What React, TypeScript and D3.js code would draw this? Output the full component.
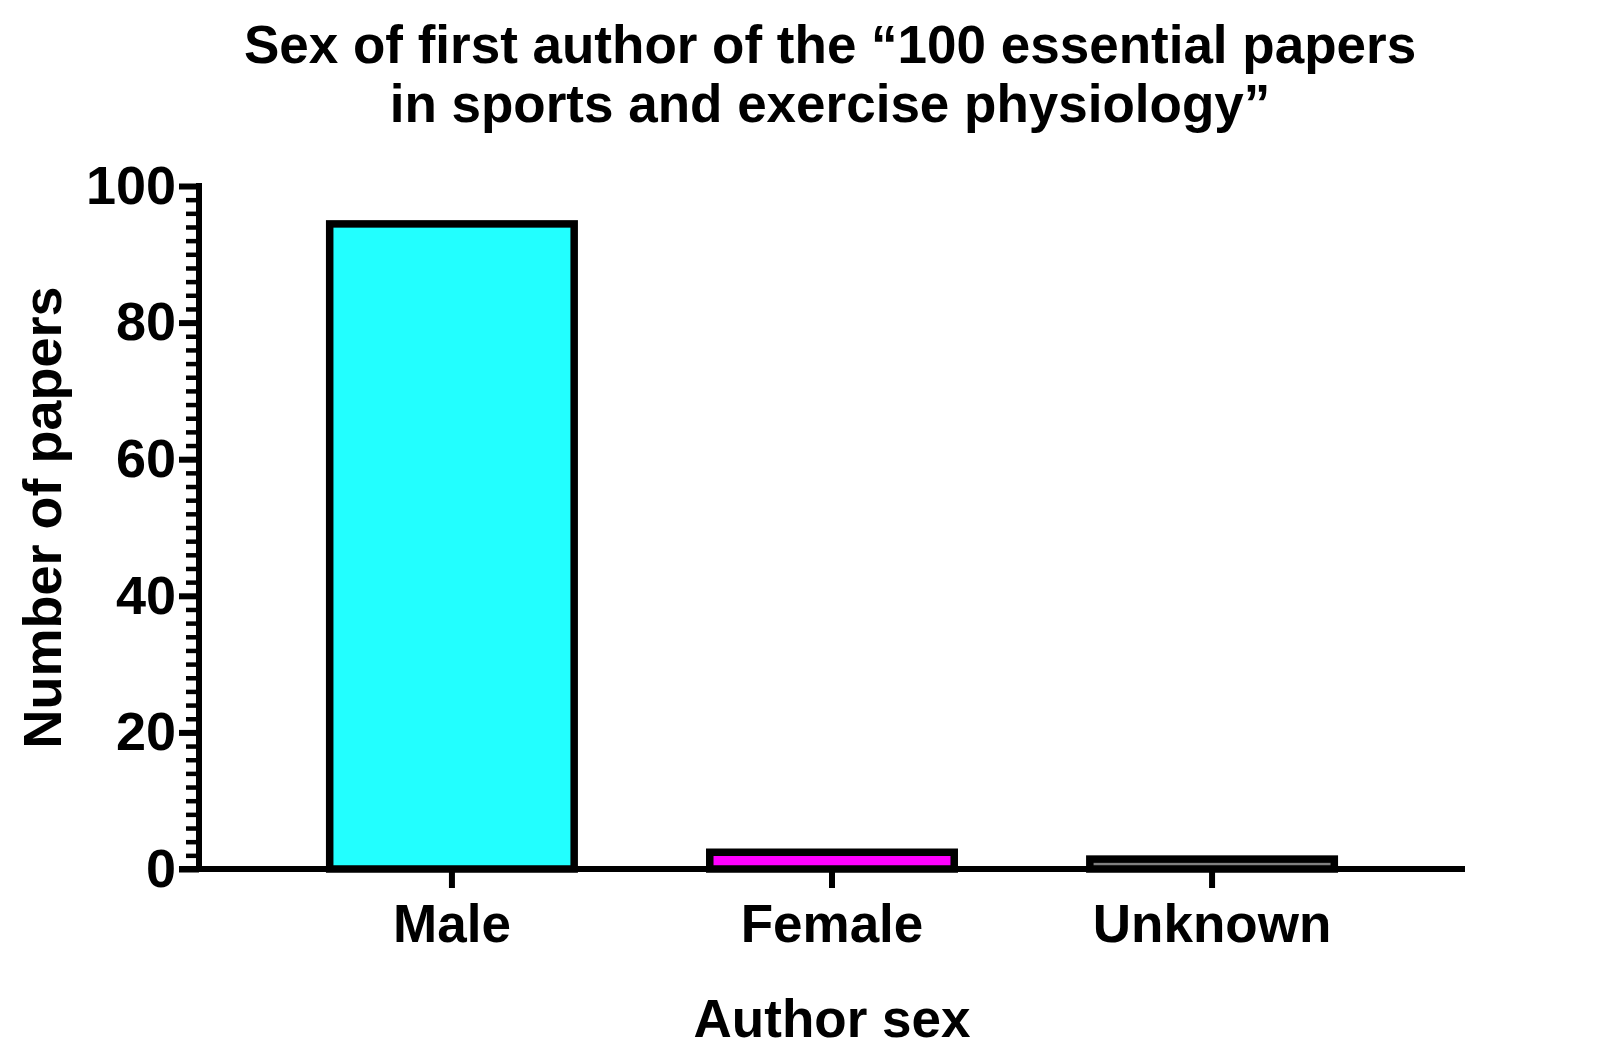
import React, { useEffect, useRef } from "react";
import * as d3 from "d3";

const categories = ["Male", "Female", "Unknown"];
const counts = [95, 3, 2];
const barColors = ["#22ffff", "#ff00ff", "#808080"];
const majorTicks = [0, 20, 40, 60, 80, 100];
const minorTicks = d3.range(0, 101, 2);
const titleLines = [
  "Sex of first author of the \u201c100 essential papers",
  "in sports and exercise physiology\u201d",
];

const W = 1600;
const H = 1059;
const FONT = "'Liberation Sans', Arial, Helvetica, sans-serif";

export default function App() {
  const svgRef = useRef<SVGSVGElement | null>(null);

  useEffect(() => {
    if (!svgRef.current) return;
    const svg = d3.select(svgRef.current);
    svg.selectAll("*").remove();

    const left = 199;
    const right = 1465;
    const top = 186;
    const bottom = 869;

    const x = d3
      .scaleBand<string>()
      .domain(categories)
      .range([left, right])
      .paddingInner(0.337)
      .paddingOuter(0.334);

    const y = d3.scaleLinear().domain([0, 100]).range([bottom, top]);

    // bars, border drawn inside the value
    const sw = 7.5;
    svg
      .append("g")
      .selectAll("rect")
      .data(categories)
      .join("rect")
      .attr("x", (d) => (x(d) as number) + sw / 2)
      .attr("y", (d, i) => y(counts[i]) + sw / 2)
      .attr("width", x.bandwidth() - sw)
      .attr("height", (d, i) => Math.max(0, y(0) - y(counts[i]) - sw / 2))
      .attr("fill", (d, i) => barColors[i])
      .attr("stroke", "#000")
      .attr("stroke-width", sw);

    // minor y ticks
    const minor = svg
      .append("g")
      .attr("transform", `translate(${left},0)`)
      .call(d3.axisLeft(y).tickValues(minorTicks).tickSize(13).tickFormat(() => ""));
    minor.select(".domain").remove();
    minor.selectAll("line").attr("stroke", "#000").attr("stroke-width", 4.5);

    // major y ticks + labels
    const yAxis = svg
      .append("g")
      .attr("transform", `translate(${left},0)`)
      .call(d3.axisLeft(y).tickValues(majorTicks).tickSize(20).tickPadding(3));
    yAxis.select(".domain").remove();
    yAxis.selectAll("line").attr("stroke", "#000").attr("stroke-width", 6);
    yAxis
      .selectAll("text")
      .attr("fill", "#000")
      .style("font-family", FONT)
      .style("font-size", "54px")
      .style("font-weight", "bold");

    // x axis ticks + labels
    const xAxis = svg
      .append("g")
      .attr("transform", `translate(0,${bottom})`)
      .call(d3.axisBottom(x).tickSize(19).tickPadding(16).tickSizeOuter(0));
    xAxis.select(".domain").remove();
    xAxis.selectAll("line").attr("stroke", "#000").attr("stroke-width", 6);
    xAxis
      .selectAll("text")
      .attr("fill", "#000")
      .style("font-family", FONT)
      .style("font-size", "53px")
      .style("font-weight", "bold");

    // axis lines
    svg
      .append("line")
      .attr("x1", left)
      .attr("x2", left)
      .attr("y1", top - 3)
      .attr("y2", bottom)
      .attr("stroke", "#000")
      .attr("stroke-width", 6);
    svg
      .append("line")
      .attr("x1", left - 20)
      .attr("x2", right)
      .attr("y1", bottom)
      .attr("y2", bottom)
      .attr("stroke", "#000")
      .attr("stroke-width", 6);

    // title
    svg
      .append("g")
      .selectAll("text")
      .data(titleLines)
      .join("text")
      .attr("x", 830)
      .attr("y", (d, i) => 63 + i * 59)
      .attr("text-anchor", "middle")
      .style("font-family", FONT)
      .style("font-size", "53px")
      .style("font-weight", "bold")
      .text((d) => d);

    // axis titles
    svg
      .append("text")
      .attr("x", (left + right) / 2)
      .attr("y", 1037)
      .attr("text-anchor", "middle")
      .style("font-family", FONT)
      .style("font-size", "53px")
      .style("font-weight", "bold")
      .text("Author sex");

    svg
      .append("text")
      .attr("transform", `translate(61,${(top + bottom) / 2 - 10}) rotate(-90)`)
      .attr("text-anchor", "middle")
      .style("font-family", FONT)
      .style("font-size", "54px")
      .style("font-weight", "bold")
      .text("Number of papers");
  }, []);

  return (
    <svg
      ref={svgRef}
      width={W}
      height={H}
      style={{ position: "absolute", left: 0, top: 0, background: "#fff" }}
    />
  );
}
